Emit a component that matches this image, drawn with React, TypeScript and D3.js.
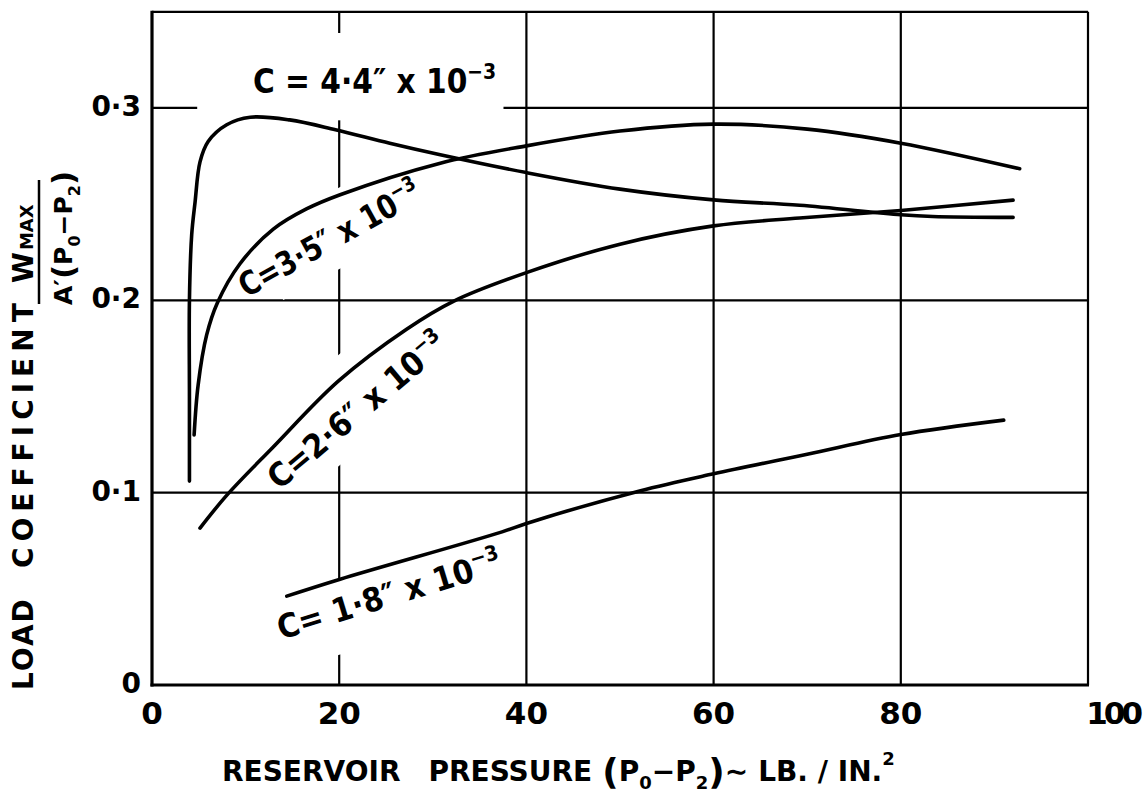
import React, { useEffect, useRef } from 'react';
import * as d3 from 'd3';

const WIDTH = 1143;
const HEIGHT = 799;

// ---- axis data ----
const xTickValues = [0, 20, 40, 60, 80, 100];
const xTickLabels = ['0', '20', '40', '60', '80', '100'];
const yTickValues = [0, 0.1, 0.2, 0.3];
const yTickLabels = ['0', '0·1', '0·2', '0·3'];
const xGridValues = [20, 40, 60, 80];
const yGridValues = [0.1, 0.2, 0.3];

// ---- series (pressure, load coefficient) ----
const curveC44: [number, number][] = [
  [4.0, 0.106], [4.0, 0.15], [4.0, 0.2], [4.24, 0.234], [4.6, 0.251], [5.13, 0.272],
  [6.0, 0.2826], [7.98, 0.2913], [10.5, 0.2952], [14.7, 0.2938], [19.6, 0.2887],
  [25.4, 0.2817], [30.8, 0.2757], [40, 0.2664], [50, 0.2578], [60, 0.2522],
  [69.2, 0.2494], [80, 0.2445], [83.4, 0.2436], [92, 0.2431],
];
const curveC35: [number, number][] = [
  [4.5, 0.13], [4.93, 0.156], [5.84, 0.182], [6.98, 0.1986], [9.4, 0.219], [12.96, 0.237],
  [16.5, 0.2475], [20.1, 0.2549], [30.8, 0.2713], [40, 0.2803], [50, 0.288],
  [60, 0.2916], [70, 0.289], [80, 0.2817], [92.7, 0.2684],
];
const curveC26: [number, number][] = [
  [5.13, 0.0816], [8.0, 0.0987], [12.9, 0.1235], [19.9, 0.158], [27.2, 0.185],
  [32.2, 0.1995], [40, 0.2144], [50, 0.2292], [60, 0.2387], [69.2, 0.2428],
  [80, 0.2467], [92, 0.2521],
];
const curveC18: [number, number][] = [
  [14.4, 0.0462], [20.1, 0.055], [37.4, 0.0796], [40, 0.084], [52.1, 0.1009],
  [60, 0.1098], [70, 0.12], [80, 0.1302], [91, 0.1377],
];
const seriesList = [curveC44, curveC35, curveC26, curveC18];

// ---- curve labels ----
const labelMain = ['C = 4·4″ x 10', 'C=3·5″ x 10', 'C=2·6″ x 10', 'C= 1·8″ x 10'];
const labelSup = ['−3', '−3', '−3', '−3'];
const labelAnchorX = [10.79, 10.1, 13.6, 13.8];
const labelAnchorY = [0.3078, 0.2012, 0.101, 0.0235];
const labelAngle = [0, -29, -40, -17];
const labelScaleX = [0.9, 0.82, 0.9, 0.9];
// halo padding: top, right, bottom, left
const labelPad = [
  [26, 8, 20, 62],
  [18, 8, 12, -38],
  [32, -60, 12, -32],
  [8, 8, 24, 5],
];

const FONT = '"DejaVu Sans", Verdana, sans-serif';

export default function App() {
  const ref = useRef<SVGSVGElement | null>(null);

  useEffect(() => {
    const svg = d3.select(ref.current);
    svg.selectAll('*').remove();

    const x = d3.scaleLinear().domain([0, 100]).range([152, 1088]);
    const y = d3.scaleLinear().domain([0, 0.35]).range([685, 11.8]);

    svg.append('rect').attr('width', WIDTH).attr('height', HEIGHT).attr('fill', '#fff');

    // grid
    const gGrid = svg.append('g').attr('stroke', '#000').attr('stroke-width', 2.2);
    gGrid.selectAll('line.v').data(xGridValues).join('line')
      .attr('x1', d => x(d)).attr('x2', d => x(d))
      .attr('y1', y(0)).attr('y2', y(0.35));
    gGrid.selectAll('line.h').data(yGridValues).join('line')
      .attr('x1', x(0)).attr('x2', x(100))
      .attr('y1', d => y(d)).attr('y2', d => y(d));

    const gHalo = svg.append('g');

    // frame
    const gFrame = svg.append('g').attr('stroke', '#000').attr('fill', 'none');
    gFrame.append('line').attr('x1', x(0)).attr('x2', x(100)).attr('y1', y(0.35)).attr('y2', y(0.35)).attr('stroke-width', 2.2);
    gFrame.append('line').attr('x1', x(100)).attr('x2', x(100)).attr('y1', y(0.35)).attr('y2', y(0)).attr('stroke-width', 2.2);
    gFrame.append('line').attr('x1', x(0)).attr('x2', x(0)).attr('y1', y(0.35) - 1).attr('y2', y(0) + 1.5).attr('stroke-width', 3.2);
    gFrame.append('line').attr('x1', x(0) - 1.5).attr('x2', x(100) + 1).attr('y1', y(0)).attr('y2', y(0)).attr('stroke-width', 3.2);

    // curves
    const line = d3.line<[number, number]>()
      .x(d => x(d[0])).y(d => y(d[1]))
      .curve(d3.curveCatmullRom.alpha(0.5));
    svg.append('g').selectAll('path').data(seriesList).join('path')
      .attr('d', d => line(d) as string)
      .attr('fill', 'none').attr('stroke', '#000').attr('stroke-width', 3.6)
      .attr('stroke-linecap', 'round').attr('stroke-linejoin', 'round');

    // curve labels with halos
    const gLabels = svg.append('g');
    labelMain.forEach((txt, i) => {
      const tr = `translate(${x(labelAnchorX[i])},${y(labelAnchorY[i])}) rotate(${labelAngle[i]}) scale(${labelScaleX[i]},1)`;
      const g = gLabels.append('g').attr('transform', tr);
      const t = g.append('text')
        .attr('font-family', FONT).attr('font-weight', 'bold').attr('font-size', 33)
        .attr('fill', '#000').style('white-space', 'pre');
      t.append('tspan').text(txt);
      t.append('tspan').attr('dy', -14).attr('font-size', 21).text(labelSup[i]);
      const bb = (t.node() as SVGTextElement).getBBox();
      const [pt, pr, pb, pl] = labelPad[i];
      gHalo.append('rect').attr('transform', tr)
        .attr('x', bb.x - pl).attr('y', bb.y - pt)
        .attr('width', Math.max(0, bb.width + pl + pr)).attr('height', bb.height + pt + pb)
        .attr('fill', '#fff');
    });

    // x tick labels
    const lastX = xTickValues.length - 1;
    svg.append('g').selectAll('text').data(xTickValues).join('text')
      .attr('x', (d, i) => (i === lastX ? 1139 : x(d)))
      .attr('y', 724)
      .attr('text-anchor', (d, i) => (i === lastX ? 'end' : 'middle'))
      .attr('letter-spacing', (d, i) => (i === lastX ? -4 : 0))
      .attr('font-family', FONT).attr('font-weight', 'bold').attr('font-size', 31)
      .text((d, i) => xTickLabels[i]);

    // y tick labels
    svg.append('g').selectAll('text').data(yTickValues).join('text')
      .attr('x', 141)
      .attr('y', d => y(d) + 8)
      .attr('text-anchor', 'end')
      .attr('font-family', FONT).attr('font-weight', 'bold').attr('font-size', 28)
      .text((d, i) => yTickLabels[i]);

    // x axis title
    const xt = svg.append('text').attr('x', 222).attr('y', 781)
      .attr('font-family', FONT).attr('font-weight', 'bold').attr('font-size', 28);
    xt.append('tspan').text('RESERVOIR');
    xt.append('tspan').attr('dx', 28).text('PRESSURE');
    xt.append('tspan').attr('dx', 10).attr('font-size', 36).attr('dy', 3).text('(');
    xt.append('tspan').attr('dy', -3).text('P');
    xt.append('tspan').attr('font-size', 18).attr('dy', 8).text('0');
    xt.append('tspan').attr('dy', -8).text('−P');
    xt.append('tspan').attr('font-size', 18).attr('dy', 8).text('2');
    xt.append('tspan').attr('font-size', 36).attr('dy', -5).text(')');
    xt.append('tspan').attr('dy', -3).attr('dx', 0).text('∼');
    xt.append('tspan').attr('dx', 10).text('LB. / IN.');
    xt.append('tspan').attr('font-size', 18).attr('dy', -16).text('2');

    // y axis title (rotated)
    const gy = svg.append('g').attr('transform', 'rotate(-90)');
    gy.append('text').attr('x', -690).attr('y', 33)
      .attr('font-family', FONT).attr('font-weight', 'bold').attr('font-size', 28)
      .attr('letter-spacing', 2).text('LOAD');
    gy.append('text').attr('x', -568).attr('y', 33)
      .attr('font-family', FONT).attr('font-weight', 'bold').attr('font-size', 28)
      .attr('letter-spacing', 6).text('COEFFICIENT');
    const num = gy.append('text').attr('x', -283).attr('y', 33)
      .attr('font-family', FONT).attr('font-weight', 'bold').attr('font-size', 28);
    num.append('tspan').text('W');
    num.append('tspan').attr('font-size', 18).attr('dx', 2).text('MAX');
    gy.append('line').attr('x1', -304).attr('x2', -180).attr('y1', 39).attr('y2', 39)
      .attr('stroke', '#000').attr('stroke-width', 2.5);
    const den = gy.append('text').attr('x', -305).attr('y', 72)
      .attr('font-family', FONT).attr('font-weight', 'bold').attr('font-size', 25);
    den.append('tspan').text('A′');
    den.append('tspan').attr('font-size', 31).attr('dy', 2).text('(');
    den.append('tspan').attr('dy', -2).text('P');
    den.append('tspan').attr('font-size', 16).attr('dy', 8).text('0');
    den.append('tspan').attr('dy', -8).text('−P');
    den.append('tspan').attr('font-size', 16).attr('dy', 8).text('2');
    den.append('tspan').attr('font-size', 31).attr('dy', -6).text(')');
  }, []);

  return (
    <svg
      ref={ref}
      width={WIDTH}
      height={HEIGHT}
      style={{ position: 'absolute', left: 0, top: 0, background: '#fff' }}
    />
  );
}
